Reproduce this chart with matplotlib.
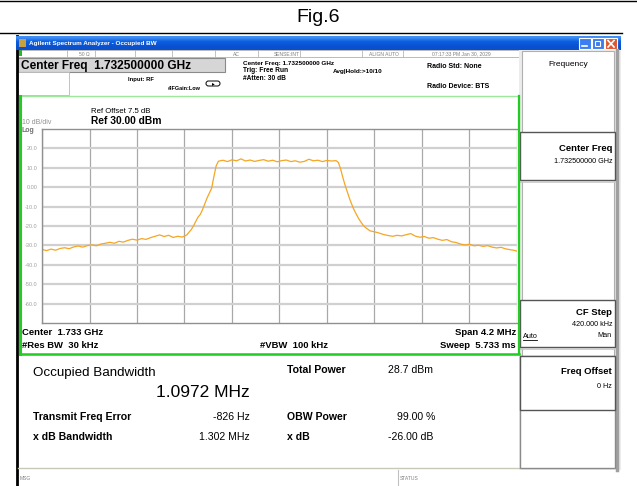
import numpy as np
import matplotlib
matplotlib.use("Agg")
import matplotlib.pyplot as plt
from matplotlib.patches import Rectangle, FancyBboxPatch

# trace: offset from centre frequency (MHz) and level (dBm)
freq_mhz = [-2.10, -2.06, -2.02, -1.98, -1.94, -1.90, -1.86, -1.82, -1.78, -1.74,
            -1.70, -1.66, -1.62, -1.58, -1.54, -1.50, -1.46, -1.42, -1.38, -1.34,
            -1.30, -1.26, -1.22, -1.18, -1.14, -1.10, -1.06, -1.02, -0.98, -0.94,
            -0.90, -0.86, -0.84, -0.82, -0.80, -0.78, -0.76, -0.74, -0.72, -0.70,
            -0.68, -0.66, -0.64, -0.62, -0.60, -0.58, -0.56, -0.54, -0.50, -0.46,
            -0.42, -0.38, -0.34, -0.30, -0.26, -0.22, -0.18, -0.14, -0.10, -0.06,
            -0.02, 0.02, 0.06, 0.10, 0.14, 0.18, 0.22, 0.26, 0.30, 0.34,
            0.38, 0.42, 0.46, 0.50, 0.52, 0.54, 0.56, 0.58, 0.60, 0.62,
            0.64, 0.66, 0.68, 0.70, 0.72, 0.74, 0.76, 0.78, 0.80, 0.84,
            0.88, 0.92, 0.96, 1.00, 1.04, 1.08, 1.12, 1.16, 1.20, 1.24,
            1.28, 1.32, 1.36, 1.40, 1.44, 1.48, 1.52, 1.56, 1.60, 1.64,
            1.68, 1.72, 1.76, 1.80, 1.84, 1.88, 1.92, 1.96, 2.00, 2.04,
            2.08, 2.10]
level_dbm = [-32.0, -32.7, -31.9, -32.5, -31.6, -31.2, -31.7, -30.8, -30.3, -30.9,
             -30.1, -29.7, -30.2, -29.3, -28.9, -28.4, -28.9, -27.9, -28.3, -27.4,
             -26.8, -27.3, -26.5, -26.9, -26.0, -25.3, -24.6, -25.4, -24.8, -25.9,
             -25.3, -25.7, -25.2, -24.6, -23.2, -21.8, -19.9, -17.6, -15.4, -14.0,
             -11.5, -8.5, -5.5, -3.0, -0.5, 5.5, 11.0, 13.4, 13.9, 13.2,
             14.1, 13.6, 14.6, 13.5, 14.0, 13.3, 13.8, 14.2, 13.4, 13.9,
             13.1, 13.7, 14.0, 13.2, 13.6, 12.9, 13.3, 14.4, 13.6, 13.9,
             13.2, 13.8, 13.5, 13.7, 12.8, 9.5, 5.0, 1.0, -2.5, -6.0,
             -9.0, -11.8, -14.0, -16.2, -18.0, -19.6, -20.8, -21.6, -22.5, -23.0,
             -23.6, -24.4, -24.9, -25.3, -24.8, -25.1, -24.5, -23.9, -25.2, -25.8,
             -25.4, -26.3, -26.0, -26.8, -27.4, -27.0, -28.1, -28.5, -29.3, -29.8,
             -29.4, -30.2, -29.9, -30.5, -30.1, -30.9, -31.3, -31.0, -31.8, -32.2,
             -32.6, -33.0]

y_ticks = [20, 10, 0, -10, -20, -30, -40, -50, -60]
y_tick_labels = ["20.0", "10.0", "0.00", "-10.0", "-20.0", "-30.0", "-40.0", "-50.0", "-60.0"]

FONT = ["Liberation Sans", "DejaVu Sans"]
W, H = 637, 486

fig = plt.figure(figsize=(W / 100, H / 100), dpi=100)
bg = fig.add_axes([0, 0, 1, 1])
bg.set_xlim(0, W)
bg.set_ylim(H, 0)
bg.axis("off")


def box(x0, y0, x1, y1, fc="none", ec="#9a9a9a", lw=1.0, z=1):
    bg.add_patch(Rectangle((x0, y0), x1 - x0, y1 - y0, facecolor=fc,
                           edgecolor=ec, linewidth=lw, zorder=z))


def txt(x, y, s, size=7, weight="bold", ha="left", color="black", **kw):
    bg.text(x, y, s, fontsize=size, fontweight=weight, ha=ha, va="center",
            color=color, family=FONT, zorder=5, **kw)


# figure caption and separator lines
txt(318, 18, "Fig.6", size=14, weight="normal", ha="center")
bg.plot([0, W], [1, 1], color="black", lw=1)
bg.plot([0, 622], [33, 33], color="black", lw=1)

# window frame
box(16, 36, 621, 486, fc="white", ec="none")
bg.plot([17, 17], [36, 486], color="black", lw=2)

# title bar
grad = np.array([[0.25, 0.55, 0.95], [0.05, 0.38, 0.88], [0.04, 0.33, 0.84],
                 [0.04, 0.31, 0.80]])[:, None, :]
bg.imshow(grad, extent=(16, 621, 50, 36), aspect="auto", zorder=2,
          interpolation="bilinear")
box(19, 39, 26, 47, fc="#c8a040", ec="none", z=3)
txt(29, 43.5, "Agilent Spectrum Analyzer - Occupied BW", size=4.6, color="white")
for bx, col in [(579, "#3c7ef0"), (592, "#3c7ef0"), (605, "#e0562e")]:
    box(bx, 38.5, bx + 12, 49, fc=col, ec="white", lw=0.8, z=3)
bg.plot([582, 587], [46.5, 46.5], color="white", lw=1.2, zorder=4)
box(595, 41, 600, 46, ec="white", lw=0.8, z=4)
bg.plot([608, 614], [40.5, 47], color="white", lw=1.2, zorder=4)
bg.plot([608, 614], [47, 40.5], color="white", lw=1.2, zorder=4)

# status row
box(18, 50, 519, 57.5, fc="white", ec="#b0b0b0", lw=0.6)
box(18.5, 50.5, 22, 56.5, fc="#2bb52b", ec="none", z=3)
for sx in [67, 95, 135, 172, 215, 258, 300, 362, 403]:
    bg.plot([sx, sx], [50, 57.5], color="#b8b8b8", lw=0.6, zorder=3)
for sx, s in [(84, "50 \u03a9"), (236, "AC"), (287, "SENSE:INT"),
              (384, "ALIGN AUTO"), (461, "07:17:33 PM Jan 30, 2029")]:
    txt(sx, 54, s, size=3.6, weight="normal", ha="center", color="#808080")

# header
box(18, 58, 225, 72, fc="#d6d6d6", ec="#8a8a8a", lw=0.8)
txt(21, 65.5, "Center Freq  1.732500000 GHz", size=8.6)
box(18, 72, 69, 95, fc="white", ec="#b8b8b8", lw=0.6)
txt(128, 80, "Input: RF", size=4.2)
txt(168, 88, "#IFGain:Low", size=4.0)
bg.add_patch(FancyBboxPatch((206, 81), 14, 5, boxstyle="round,pad=0,rounding_size=2.5",
                            fc="white", ec="black", lw=0.7, zorder=4))
txt(213, 83.5, "\u25b8", size=4, ha="center")
txt(243, 63, "Center Freq: 1.732500000 GHz", size=4.6)
txt(243, 71, "Trig: Free Run", size=4.8)
txt(243, 79, "#Atten: 30 dB", size=4.8)
txt(333, 71, "Avg|Hold:>10/10", size=4.6)
txt(427, 66, "Radio Std: None", size=5.0)
txt(427, 87, "Radio Device: BTS", size=5.0)

# green display frame
box(20, 96, 518.5, 354, ec="#9ee89e", lw=1.0, z=3)
bg.plot([20, 20], [96, 354], color="#22cc22", lw=2.2, zorder=4)
bg.plot([518.5, 518.5], [96, 354], color="#22cc22", lw=1.6, zorder=4)
bg.plot([20, 518.5], [354, 354], color="#22cc22", lw=1.8, zorder=4)

txt(91, 111, "Ref Offset 7.5 dB", size=5.6, weight="normal")
txt(91, 120.5, "Ref 30.00 dBm", size=7.4)
txt(22, 122, "10 dB/div", size=5.0, weight="normal", color="#909090")
txt(22, 130, "Log", size=5.0, weight="bold", color="#707070")

txt(22, 332, "Center  1.733 GHz", size=6.8)
txt(22, 345.5, "#Res BW  30 kHz", size=6.8)
txt(260, 345.5, "#VBW  100 kHz", size=6.8)
txt(516, 332, "Span 4.2 MHz", size=6.8, ha="right")
txt(516, 345.5, "Sweep  5.733 ms", size=6.8, ha="right")

# measurement panel
bg.plot([18, 519], [468, 468], color="#c8c8b8", lw=1, zorder=3)
txt(33, 373, "Occupied Bandwidth", size=9.6, weight="normal")
txt(250, 392, "1.0972 MHz", size=12.5, weight="normal", ha="right")
txt(287, 370, "Total Power", size=7.6)
txt(388, 370, "28.7 dBm", size=7.6, weight="normal")
txt(33, 417, "Transmit Freq Error", size=7.6)
txt(250, 417, "-826 Hz", size=7.6, weight="normal", ha="right")
txt(287, 417, "OBW Power", size=7.6)
txt(397, 417, "99.00 %", size=7.6, weight="normal")
txt(33, 437, "x dB Bandwidth", size=7.6)
txt(250, 437, "1.302 MHz", size=7.6, weight="normal", ha="right")
txt(287, 437, "x dB", size=7.6)
txt(388, 437, "-26.00 dB", size=7.6, weight="normal")

# message / status row
bg.plot([398, 398], [470, 486], color="#c0c0c0", lw=0.8, zorder=3)
txt(20, 478, "MSG", size=3.6, weight="normal", color="#808080")
txt(400, 478, "STATUS", size=3.6, weight="normal", color="#808080")

# softkey panel
box(519, 50, 621, 470, fc="#ececec", ec="none")
box(522, 51, 614, 468, fc="white", ec="#b0b0b0", lw=0.8)
bg.plot([617, 617], [50, 470], color="#a0a0a0", lw=2.5, zorder=3)
txt(568, 65, "Frequency", size=6.0, weight="normal", ha="center")
for y0, y1 in [(132, 180), (300, 347)]:
    box(520, y0, 615, y1, fc="white", ec="#555555", lw=1.0, z=3)
    bg.plot([520, 615], [y1 + 2, y1 + 2], color="#c8c8c8", lw=1.2, zorder=3)
box(520, 356, 615, 468, fc="white", ec="#8a8a8a", lw=1.0, z=3)
box(520, 356, 615, 410, fc="white", ec="#555555", lw=1.0, z=3)
txt(612, 148, "Center Freq", size=6.8, ha="right")
txt(612, 161, "1.732500000 GHz", size=5.2, weight="normal", ha="right")
txt(612, 312, "CF Step", size=6.8, ha="right")
txt(612, 324, "420.000 kHz", size=5.2, weight="normal", ha="right")
txt(523, 336, "Auto", size=5.2, weight="normal")
bg.plot([523, 537], [339.5, 339.5], color="black", lw=0.6, zorder=5)
txt(612, 335, "Man", size=5.2, weight="normal", ha="right")
txt(612, 371, "Freq Offset", size=6.8, ha="right")
txt(612, 386, "0 Hz", size=5.2, weight="normal", ha="right")

# spectrum trace
ax = fig.add_axes([42 / W, 1 - 323 / H, 475 / W, 194 / H])
ax.set_facecolor("white")
ax.set_xlim(-2.1, 2.1)
ax.set_ylim(-70, 30)
ax.set_xticks(np.arange(-2.1, 2.11, 0.42))
ax.set_yticks(y_ticks)
ax.set_yticklabels(y_tick_labels, fontsize=4.0, color="#a0a0a0", family=FONT)
ax.tick_params(axis="x", length=0, labelbottom=False)
ax.tick_params(axis="y", length=0, pad=3)
ax.xaxis.grid(True, color="#a8a8a8", lw=0.9)
ax.yaxis.grid(True, color="#d0d0d0", lw=1.6)
ax.set_axisbelow(True)
for side, sp in ax.spines.items():
    sp.set_color("#909090")
    sp.set_linewidth(1.0)
ax.spines["right"].set_visible(False)
ax.plot(freq_mhz, level_dbm, color="#f5a623", lw=0.9)

fig.savefig("out.png", dpi=100)
